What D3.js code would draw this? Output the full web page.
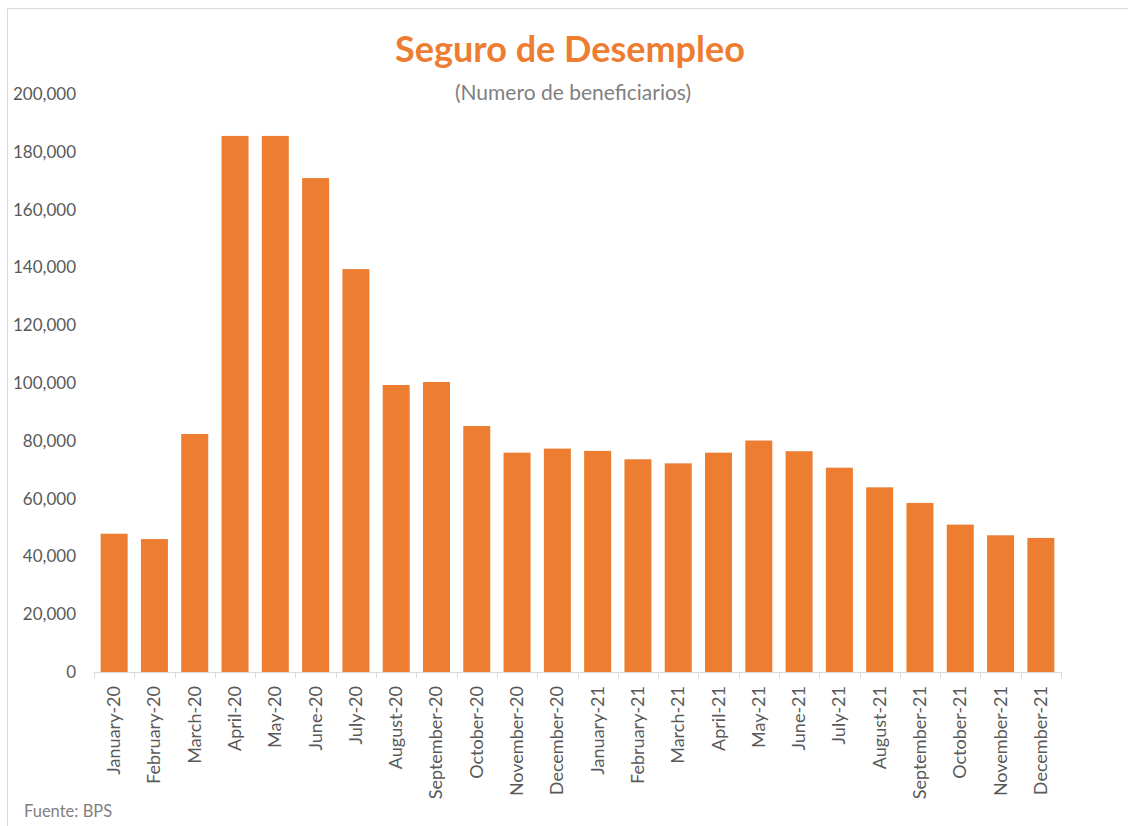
<!DOCTYPE html>
<html>
<head>
<meta charset="utf-8">
<script src="https://cdnjs.cloudflare.com/ajax/libs/d3/7.8.5/d3.min.js"></script>
<style>
  body { margin: 0; background: #fff; }
  text { font-family: Lato, "Open Sans", sans-serif; }
</style>
</head>
<body>
<script>
var months = ["January-20","February-20","March-20","April-20","May-20","June-20","July-20","August-20",
  "September-20","October-20","November-20","December-20","January-21","February-21","March-21","April-21",
  "May-21","June-21","July-21","August-21","September-21","October-21","November-21","December-21"]
var beneficiarios = [47850, 46000, 82350, 185500, 185500, 170900, 139400, 99300,
  100350, 85100, 75900, 77300, 76500, 73600, 72200, 75900,
  80100, 76400, 70700, 63900, 58500, 51000, 47300, 46400]
var yTicks = [0, 20000, 40000, 60000, 80000, 100000, 120000, 140000, 160000, 180000, 200000]

var W = 1128, H = 826
var margin = {top: 94, left: 94, right: 67, bottom: 154}
var h = H - margin.top - margin.bottom,
    w = W - margin.left - margin.right

var root = d3.select("body").append("svg").attr("width", W).attr("height", H)

// frame
root.append("path").attr("d", "M7.5," + H + "V8.5H" + W)
  .attr("fill", "none").attr("stroke", "#d9d9d9").attr("stroke-width", 1)

root.append("text").attr("x", 570).attr("y", 62).attr("text-anchor", "middle")
  .attr("font-size", 36).attr("font-weight", "bold").attr("fill", "#ed7d31")
  .text("Seguro de Desempleo")
root.append("text").attr("x", 573).attr("y", 100).attr("text-anchor", "middle")
  .attr("font-size", 21).attr("fill", "#7f7f7f")
  .text("(Numero de beneficiarios)")
root.append("text").attr("x", 24).attr("y", 817)
  .attr("font-size", 16.5).attr("fill", "#7f7f7f")
  .text("Fuente: BPS")

var svg = root.append("g").attr("transform", `translate(${margin.left}, ${margin.top})`)

var x = d3.scaleBand().domain(months).range([0, w]).padding(0)
var y = d3.scaleLinear().domain([0, 200000]).range([h, 0])

var barW = x.bandwidth() * 0.67

svg.selectAll("rect").data(months).enter()
  .append("rect")
  .attr("x", function(d){ return x(d) + (x.bandwidth() - barW) / 2 })
  .attr("width", barW)
  .attr("y", function(d, i){ return y(beneficiarios[i]) })
  .attr("height", function(d, i){ return h - y(beneficiarios[i]) })
  .attr("fill", "#ed7d31")

// y axis labels only
var yAxis = svg.append("g").call(d3.axisLeft(y).tickValues(yTicks).tickFormat(d3.format(",")).tickSize(0).tickPadding(18))
yAxis.select(".domain").remove()
yAxis.selectAll("text").attr("font-size", 17).attr("fill", "#595959")
  .style("font-family", "Lato, 'Open Sans', sans-serif")

// x axis with ticks on band edges
var xAxis = svg.append("g").attr("transform", `translate(0, ${h})`)
xAxis.append("line").attr("x1", 0).attr("x2", w).attr("y1", 0.5).attr("y2", 0.5)
  .attr("stroke", "#d9d9d9")
var edges = months.map(function(d){ return x(d) }).concat([w])
xAxis.selectAll("line.tk").data(edges).enter().append("line").attr("class", "tk")
  .attr("x1", function(d){ return Math.round(d) + 0.5 }).attr("x2", function(d){ return Math.round(d) + 0.5 })
  .attr("y1", 0).attr("y2", 6).attr("stroke", "#d9d9d9")
xAxis.selectAll("text").data(months).enter().append("text")
  .attr("transform", function(d){ return `translate(${x(d) + x.bandwidth() / 2 + 6}, 14) rotate(-90)` })
  .attr("text-anchor", "end")
  .attr("font-size", 18).attr("fill", "#595959")
  .text(function(d){ return d })
</script>
</body>
</html>
